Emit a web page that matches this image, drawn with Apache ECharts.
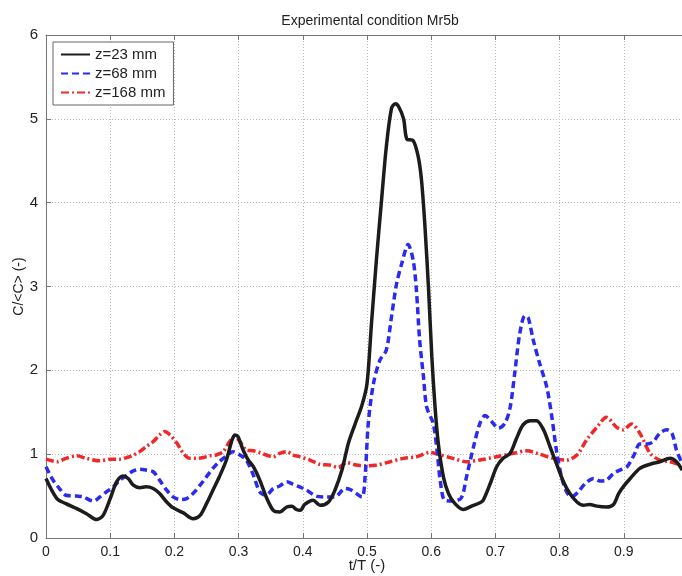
<!DOCTYPE html>
<html>
<head>
<meta charset="utf-8">
<script src="https://cdn.jsdelivr.net/npm/echarts@6/dist/echarts.min.js"></script>
<style>html,body{margin:0;padding:0;background:#fff}#c{width:682px;height:576px}</style>
</head>
<body>
<div id="c"></div>
<script>
const xTicks = [0, 0.1, 0.2, 0.3, 0.4, 0.5, 0.6, 0.7, 0.8, 0.9];
const yTicks = [0, 1, 2, 3, 4, 5, 6];
const seriesNames = ['z=23 mm', 'z=68 mm', 'z=168 mm'];

const t23 = [0,0.017,0.031,0.048,0.063,0.079,0.089,0.1,0.11,0.12,0.128,0.136,0.146,0.156,0.167,0.177,0.188,0.198,0.214,0.229,0.24,0.25,0.26,0.27,0.281,0.289,0.294,0.299,0.307,0.315,0.323,0.333,0.343,0.354,0.364,0.375,0.383,0.39,0.396,0.403,0.416,0.427,0.44,0.45,0.461,0.471,0.481,0.492,0.5,0.507,0.515,0.523,0.53,0.538,0.544,0.549,0.557,0.562,0.572,0.58,0.585,0.59,0.596,0.601,0.606,0.611,0.619,0.627,0.637,0.65,0.663,0.676,0.681,0.692,0.702,0.712,0.723,0.733,0.743,0.754,0.764,0.775,0.785,0.795,0.806,0.816,0.827,0.837,0.847,0.858,0.873,0.884,0.892,0.899,0.91,0.925,0.941,0.956,0.972,0.982,0.991];
const c23 = [0.71,0.47,0.41,0.35,0.29,0.22,0.27,0.47,0.67,0.74,0.71,0.63,0.60,0.61,0.59,0.53,0.43,0.36,0.30,0.23,0.27,0.41,0.57,0.73,0.93,1.15,1.23,1.21,1.05,0.93,0.85,0.69,0.49,0.33,0.31,0.37,0.38,0.34,0.33,0.40,0.45,0.39,0.43,0.57,0.81,1.13,1.35,1.58,1.84,2.56,3.35,4.06,4.66,5.12,5.18,5.15,5.0,4.76,4.74,4.54,4.26,3.75,2.95,2.16,1.56,1.13,0.73,0.53,0.41,0.34,0.38,0.42,0.45,0.65,0.85,0.95,1.01,1.19,1.35,1.40,1.40,1.29,1.09,0.89,0.67,0.53,0.43,0.39,0.40,0.38,0.37,0.40,0.53,0.61,0.71,0.83,0.88,0.91,0.95,0.91,0.81];

const t68 = [0,0.011,0.021,0.031,0.048,0.058,0.074,0.084,0.094,0.105,0.115,0.126,0.136,0.146,0.156,0.167,0.177,0.188,0.198,0.209,0.219,0.229,0.24,0.25,0.26,0.27,0.286,0.291,0.302,0.312,0.323,0.333,0.343,0.354,0.364,0.375,0.385,0.395,0.406,0.421,0.437,0.45,0.466,0.476,0.492,0.497,0.502,0.51,0.52,0.53,0.538,0.546,0.554,0.564,0.572,0.577,0.582,0.588,0.593,0.603,0.609,0.614,0.621,0.634,0.647,0.655,0.666,0.676,0.684,0.694,0.705,0.715,0.723,0.73,0.738,0.746,0.751,0.759,0.769,0.78,0.788,0.795,0.803,0.811,0.819,0.829,0.84,0.853,0.863,0.873,0.884,0.894,0.905,0.916,0.925,0.936,0.946,0.956,0.967,0.975,0.982,0.991];
const c68 = [0.85,0.69,0.59,0.51,0.50,0.49,0.44,0.49,0.55,0.61,0.69,0.75,0.80,0.82,0.81,0.79,0.69,0.57,0.49,0.46,0.47,0.53,0.63,0.73,0.83,0.91,1.01,1.03,0.99,0.93,0.75,0.55,0.51,0.59,0.62,0.67,0.64,0.61,0.57,0.50,0.49,0.49,0.59,0.57,0.49,0.73,1.37,1.84,2.12,2.24,2.63,3.03,3.27,3.50,3.31,2.95,2.36,1.92,1.56,1.37,1.05,0.69,0.45,0.44,0.48,0.73,1.09,1.37,1.46,1.39,1.31,1.37,1.56,1.96,2.44,2.65,2.63,2.36,2.08,1.80,1.44,1.05,0.73,0.55,0.49,0.55,0.65,0.71,0.68,0.69,0.77,0.81,0.85,0.99,1.12,1.12,1.15,1.25,1.29,1.25,1.05,0.89];

const t168 = [0,0.017,0.031,0.048,0.063,0.084,0.1,0.115,0.126,0.136,0.146,0.156,0.167,0.177,0.185,0.193,0.204,0.214,0.224,0.234,0.245,0.255,0.265,0.276,0.286,0.294,0.302,0.312,0.323,0.333,0.343,0.354,0.364,0.375,0.385,0.395,0.411,0.426,0.442,0.455,0.468,0.483,0.499,0.515,0.536,0.557,0.577,0.598,0.614,0.634,0.655,0.676,0.702,0.728,0.749,0.769,0.79,0.811,0.827,0.842,0.858,0.873,0.889,0.899,0.912,0.925,0.941,0.956,0.972,0.988];
const c168 = [0.94,0.91,0.95,0.98,0.95,0.92,0.94,0.94,0.96,0.99,1.03,1.09,1.15,1.23,1.27,1.23,1.13,1.01,0.95,0.95,0.96,0.98,0.99,1.03,1.15,1.21,1.15,1.05,1.04,1.02,0.99,0.97,1.01,1.03,0.99,0.97,0.93,0.88,0.87,0.84,0.90,0.87,0.86,0.87,0.91,0.95,0.97,1.02,0.99,0.95,0.91,0.93,0.97,1.01,1.04,1.0,0.95,0.93,0.99,1.17,1.32,1.44,1.32,1.29,1.36,1.25,1.01,0.93,0.91,0.87];

const zip = (a, b) => a.map((v, i) => [v, b[i]]);

const chart = echarts.init(document.getElementById('c'), null, {renderer: 'canvas'});
const font = 'Liberation Sans, Arial, sans-serif';
const axisCommon = {
  type: 'value', min: 0, max: 1, interval: 0.1,
  axisLine: {show: true, lineStyle: {color: '#777', width: 1}},
  axisTick: {show: true, inside: true, length: 5, lineStyle: {color: '#777'}}
};
chart.setOption({
  animation: false,
  backgroundColor: '#fff',
  title: {
    text: 'Experimental condition Mr5b', left: 365, top: 9, textAlign: 'center',
    textStyle: {fontFamily: font, fontSize: 14, fontWeight: 'normal', color: '#222'}
  },
  legend: {
    orient: 'vertical', left: 53, top: 42, padding: [5, 8, 5, 7],
    itemWidth: 29, itemHeight: 12, itemGap: 4,
    borderColor: '#666', borderWidth: 1, backgroundColor: '#fff',
    itemStyle: {opacity: 0},
    textStyle: {fontFamily: font, fontSize: 15, color: '#222'},
    data: seriesNames
  },
  grid: {left: 46, right: -6, top: 35, bottom: 38, containLabel: false, outerBoundsMode: 'none'},
  xAxis: [
    Object.assign({}, axisCommon, {
      position: 'bottom',
      name: 't/T (-)', nameLocation: 'middle', nameGap: 20, nameMoveOverlap: false,
      nameTextStyle: {fontFamily: font, fontSize: 15, color: '#222', verticalAlign: 'top'},
      axisLabel: {fontFamily: font, fontSize: 14, color: '#222', margin: 7,
        formatter: v => xTicks.indexOf(Math.round(v * 10) / 10) >= 0 && Math.abs(v * 10 - Math.round(v * 10)) < 1e-6 ? String(Math.round(v * 10) / 10) : ''},
      splitLine: {show: true, lineStyle: {color: '#bbb', type: [1, 2], width: 1}}
    }),
    Object.assign({}, axisCommon, {
      position: 'top', axisLabel: {show: false}, splitLine: {show: false}
    })
  ],
  yAxis: {
    type: 'value', min: 0, max: 6, interval: 1,
    name: 'C/<C> (-)', nameLocation: 'middle', nameGap: 20, nameMoveOverlap: false,
    nameTextStyle: {fontFamily: font, fontSize: 14, color: '#222'},
    axisLine: {show: true, lineStyle: {color: '#777', width: 1}},
    axisTick: {show: true, inside: true, length: 5, lineStyle: {color: '#777'}},
    axisLabel: {fontFamily: font, fontSize: 15, color: '#222', margin: 8,
      formatter: v => yTicks.indexOf(v) >= 0 ? String(v) : ''},
    splitLine: {show: true, lineStyle: {color: '#bbb', type: [1, 2], width: 1}}
  },
  series: [
    {name: seriesNames[0], type: 'line', xAxisIndex: 0, data: zip(t23, c23), showSymbol: false, symbol: 'none', smooth: 0.3,
      lineStyle: {color: '#1c1c1c', width: 3.5}, itemStyle: {color: '#1c1c1c'}, z: 4},
    {name: seriesNames[1], type: 'line', xAxisIndex: 0, data: zip(t68, c68), showSymbol: false, symbol: 'none', smooth: 0.3,
      lineStyle: {color: '#2a2af0', width: 3.5, type: [7, 4]}, itemStyle: {color: '#2a2af0'}, z: 3},
    {name: seriesNames[2], type: 'line', xAxisIndex: 0, data: zip(t168, c168), showSymbol: false, symbol: 'none', smooth: 0.3,
      lineStyle: {color: '#f02828', width: 3.5, type: [8, 3, 2, 3]}, itemStyle: {color: '#f02828'}, z: 2}
  ]
});
</script>
</body>
</html>
